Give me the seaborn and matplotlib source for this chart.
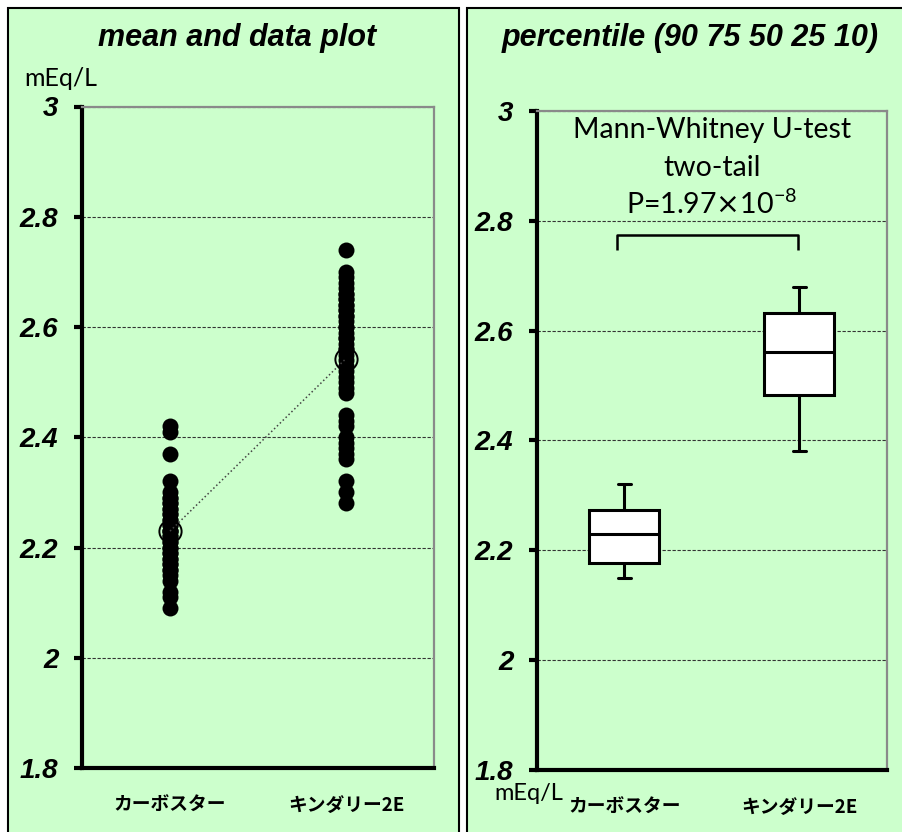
import matplotlib
matplotlib.use("Agg")
import matplotlib.pyplot as plt
import matplotlib.patches as mpatches
import seaborn as sns
import pandas as pd
import numpy as np

# ---------------- data ----------------
categories = ["カーボスター", "キンダリー2E"]
carbostar_values = [2.42, 2.41, 2.37, 2.32, 2.30, 2.29, 2.29, 2.28, 2.28, 2.27,
                    2.27, 2.26, 2.26, 2.25, 2.25, 2.24, 2.24, 2.23, 2.23, 2.23,
                    2.22, 2.22, 2.21, 2.21, 2.20, 2.20, 2.19, 2.19, 2.18, 2.18,
                    2.17, 2.17, 2.16, 2.16, 2.15, 2.14, 2.12, 2.11, 2.09]
kindaly_values = [2.74, 2.70, 2.69, 2.68, 2.67, 2.66, 2.66, 2.65, 2.65, 2.64,
                  2.64, 2.63, 2.63, 2.62, 2.62, 2.61, 2.60, 2.60, 2.59, 2.58,
                  2.58, 2.57, 2.56, 2.56, 2.55, 2.54, 2.53, 2.52, 2.51, 2.50,
                  2.49, 2.48, 2.44, 2.43, 2.42, 2.40, 2.39, 2.38, 2.37, 2.36,
                  2.32, 2.30, 2.28]
# percentiles (10, 25, 50, 75, 90)
carbostar_pct = [2.15, 2.177, 2.229, 2.273, 2.32]
kindaly_pct = [2.38, 2.482, 2.561, 2.632, 2.68]
yticks = [1.8, 2.0, 2.2, 2.4, 2.6, 2.8, 3.0]
ytick_labels = ["1.8", "2", "2.2", "2.4", "2.6", "2.8", "3"]
p_text_lines = ["Mann-Whitney U-test", "two-tail", r"P=1.97$\times$10$^{\mathregular{-8}}$"]

raw = pd.DataFrame({
    "group": [categories[0]] * len(carbostar_values) + [categories[1]] * len(kindaly_values),
    "value": carbostar_values + kindaly_values,
})
pct = pd.DataFrame({
    "group": [categories[0]] * len(carbostar_pct) + [categories[1]] * len(kindaly_pct),
    "value": carbostar_pct + kindaly_pct,
})

# ---------------- style ----------------
sns.set_style("white")
plt.rcParams["font.family"] = ["Liberation Sans", "DejaVu Sans"]
plt.rcParams["text.color"] = "black"
plt.rcParams["xtick.color"] = "black"
plt.rcParams["ytick.color"] = "black"

W, H = 903, 832
fig = plt.figure(figsize=(W / 100, H / 100), dpi=100)
fig.patch.set_facecolor("white")
GREEN = "#CCFFCC"

def px_rect(x0, y0, x1, y1):
    return [x0 / W, 1 - y1 / H, (x1 - x0) / W, (y1 - y0) / H]

# panel backgrounds
for (x0, x1) in [(8, 459), (467, 910)]:
    fig.patches.append(mpatches.Rectangle((x0 / W, -0.05), (x1 - x0) / W, 1.05 - 8 / H,
                                          transform=fig.transFigure, facecolor=GREEN,
                                          edgecolor="black", linewidth=1.5, zorder=-10))

ax1 = fig.add_axes(px_rect(82, 106.5, 434, 768))
ax2 = fig.add_axes(px_rect(537, 111, 887, 770))

tick_font = dict(family="Liberation Sans", style="italic", weight="bold", size=20)
cjk_font = dict(family=["Noto Sans CJK JP", "DejaVu Sans"], weight="bold", size=13.5)

for ax in (ax1, ax2):
    ax.set_facecolor(GREEN)
    ax.set_ylim(1.8, 3.0)
    ax.set_xlim(-0.5, 1.5)
    ax.yaxis.grid(True, linestyle=(0, (3, 1.5)), color="#333333", linewidth=0.8)
    ax.xaxis.grid(False)
    ax.set_axisbelow(True)
    for s in ("left", "bottom"):
        ax.spines[s].set_color("black")
        ax.spines[s].set_linewidth(3)
    for s in ("top", "right"):
        ax.spines[s].set_color("#8a8a8a")
        ax.spines[s].set_linewidth(1.6)
    ax.tick_params(axis="y", which="major", left=True, length=6, width=3, color="black", pad=11)
    ax.tick_params(axis="x", length=0, pad=20)

# ---------------- left: data + mean ----------------
sns.stripplot(data=raw, x="group", y="value", order=categories, jitter=False,
              color="black", size=11.5, linewidth=0, ax=ax1, zorder=3)
sns.pointplot(data=raw, x="group", y="value", order=categories, errorbar=None,
              color="#444444", markers="o", linestyles=":", linewidth=1.1,
              markersize=16, ax=ax1)
for ln in ax1.lines:
    ln.set_markerfacecolor("none")
    ln.set_markeredgecolor("black")
    ln.set_markeredgewidth(1.4)
    ln.set_zorder(4)

# ---------------- right: percentile boxes ----------------
sns.boxplot(data=pct, x="group", y="value", order=categories, whis=(0, 100),
            width=0.4, color="white", linecolor="black", linewidth=2.2,
            fill=True, showfliers=False, ax=ax2,
            boxprops=dict(facecolor="white", edgecolor="black"))
# shorten caps
for ln in ax2.lines:
    xd = np.asarray(ln.get_xdata(), dtype=float)
    yd = np.asarray(ln.get_ydata(), dtype=float)
    if len(xd) == 2 and yd[0] == yd[1] and abs(xd[1] - xd[0]) < 0.39:
        c = xd.mean()
        ln.set_xdata([c - 0.035, c + 0.035])

# bracket + annotation
ax2.plot([-0.04, -0.04, 0.99, 0.99], [2.747, 2.774, 2.774, 2.747], color="black",
         linewidth=1.8, solid_capstyle="butt", zorder=5)
for txt, yv in zip(p_text_lines, [2.965, 2.896, 2.830]):
    ax2.text(0.5, yv, txt, ha="center", va="center", fontsize=20.5, family="Lato",
             color="black", zorder=6)

for ax in (ax1, ax2):
    ax.set_xlim(-0.5, 1.5)
    ax.set_ylim(1.8, 3.0)
    ax.set_xlabel("")
    ax.set_ylabel("")
    ax.set_yticks(yticks)
    ax.set_yticklabels(ytick_labels, fontdict=tick_font)
    ax.set_xticks([0, 1])
    ax.set_xticklabels(categories, fontdict=cjk_font)

# titles and units
fig.text(237 / W, 1 - 38 / H, "mean and data plot", ha="center", va="center",
         family="Liberation Sans", style="italic", weight="bold", size=22)
fig.text(690 / W, 1 - 38 / H, "percentile (90 75 50 25 10)", ha="center", va="center",
         family="Liberation Sans", style="italic", weight="bold", size=22)
fig.text(61 / W, 1 - 78 / H, "mEq/L", ha="center", va="center", family="Lato", size=18)
fig.text(529 / W, 1 - 793 / H, "mEq/L", ha="center", va="center", family="Lato", size=17)

fig.savefig("out.png", dpi=100, facecolor="white")
